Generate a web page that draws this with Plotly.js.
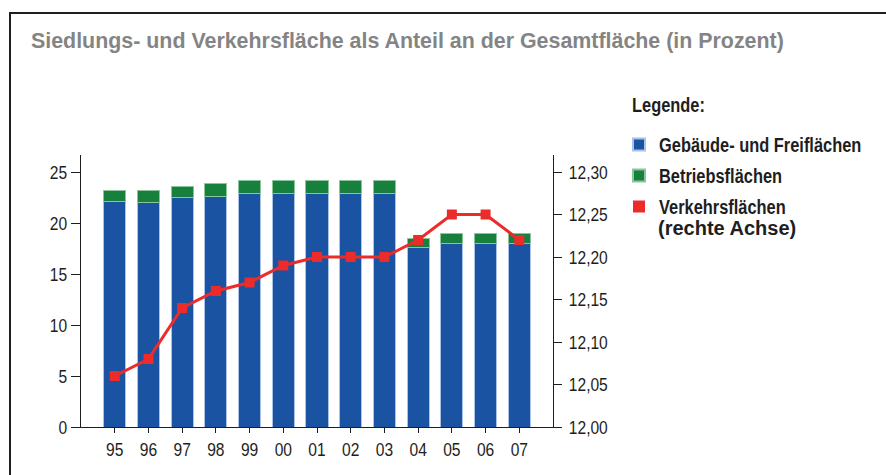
<!DOCTYPE html>
<html>
<head>
<meta charset="utf-8">
<script src="https://cdn.plot.ly/plotly-3.0.1.min.js"></script>
<style>
  html, body { margin: 0; padding: 0; background: #fff; width: 886px; height: 475px; overflow: hidden; }
  #frame { position: absolute; left: 9px; top: 12px; width: 1000px; height: 600px;
           border-left: 2px solid #1e1e1e; border-top: 2px solid #1e1e1e; }
  #chart { position: absolute; left: 0; top: 0; width: 886px; height: 475px; }
</style>
</head>
<body>
<div id="frame"></div>
<div id="chart"></div>
<script>
const years = ['95','96','97','98','99','00','01','02','03','04','05','06','07'];
const gebaeude = [22.1, 22.0, 22.5, 22.6, 22.9, 22.9, 22.9, 22.9, 22.9, 17.6, 18.0, 18.0, 18.0];
const betrieb  = [1.1, 1.2, 1.05, 1.3, 1.3, 1.3, 1.3, 1.3, 1.3, 0.9, 1.0, 1.0, 1.0];
const verkehr  = [12.06, 12.08, 12.14, 12.16, 12.17, 12.19, 12.20, 12.20, 12.20, 12.22, 12.25, 12.25, 12.22];
const leftTicks = [0, 5, 10, 15, 20, 25];
const rightTicks = [12.00, 12.05, 12.10, 12.15, 12.20, 12.25, 12.30];
const seriesNames = ['Gebäude- und Freiflächen', 'Betriebsflächen', 'Verkehrsflächen'];

const SANS = '"Liberation Sans", Arial, sans-serif';
const BLUE = '#1a53a1';
const GREEN = '#17803d';
const RED = '#ec2b2b';
const INK = '#1e1e1e';

const traces = [
  {
    type: 'bar', x: years, y: gebaeude, name: seriesNames[0],
    marker: { color: BLUE, line: { color: '#a9c2e6', width: 1 } },
    width: 0.66, legendgroup: 'a', hoverinfo: 'skip'
  },
  {
    type: 'bar', x: years, y: betrieb, name: seriesNames[1],
    marker: { color: GREEN, line: { color: '#8cc59c', width: 1 } },
    width: 0.66, legendgroup: 'b', hoverinfo: 'skip'
  },
  {
    type: 'scatter', mode: 'lines', x: years, y: verkehr, yaxis: 'y2',
    line: { color: RED, width: 3 }, showlegend: false, hoverinfo: 'skip'
  },
  {
    type: 'scatter', mode: 'markers', x: years, y: verkehr, yaxis: 'y2',
    name: seriesNames[2],
    marker: { color: RED, symbol: 'square', size: 10 },
    legendgroup: 'c', hoverinfo: 'skip'
  }
];

const tickFont = { family: SANS, size: 19, color: INK };

const layout = {
  width: 886, height: 475,
  paper_bgcolor: 'rgba(0,0,0,0)', plot_bgcolor: 'rgba(0,0,0,0)',
  margin: { l: 81, r: 333, t: 155, b: 48 },
  barmode: 'stack',
  separators: ',.',
  showlegend: true,
  hovermode: false,
  title: {
    text: 'Siedlungs- und Verkehrsfläche als Anteil an der Gesamtfläche (in Prozent)',
    font: { family: SANS, size: 21.4, color: '#848484', weight: 'bold' },
    x: 31 / 886, xanchor: 'left', xref: 'container',
    y: 1 - 41 / 475, yanchor: 'middle', yref: 'container'
  },
  xaxis: {
    type: 'category', range: [-1, 13], showgrid: false, zeroline: false,
    showline: true, linecolor: INK, linewidth: 1,
    ticks: 'outside', ticklen: 5, tickcolor: INK, tickwidth: 1,
    tickfont: tickFont, fixedrange: true
  },
  yaxis: {
    range: [0, 26.67], tickvals: leftTicks, ticktext: leftTicks.map(String),
    showgrid: false, zeroline: false,
    showline: true, linecolor: INK, linewidth: 1,
    ticks: 'outside', ticklen: 9, tickcolor: INK, tickwidth: 1,
    tickfont: tickFont, fixedrange: true
  },
  yaxis2: {
    overlaying: 'y', side: 'right',
    range: [12, 12.32], tickvals: rightTicks, tickformat: '.2f',
    showgrid: false, zeroline: false,
    showline: true, linecolor: INK, linewidth: 1,
    ticks: 'outside', ticklen: 8, tickcolor: INK, tickwidth: 1,
    ticklabelstandoff: 3,
    tickfont: tickFont, fixedrange: true
  },
  legend: {
    font: { family: SANS, size: 20, color: INK, weight: 'bold' },
    xref: 'container', yref: 'container',
    x: 619 / 886, xanchor: 'left',
    y: 1 - 125 / 475, yanchor: 'top',
    traceorder: 'grouped', tracegroupgap: 2,
    valign: 'top', itemsizing: 'constant',
    bgcolor: 'rgba(0,0,0,0)', borderwidth: 0
  },
  annotations: [
    {
      text: 'Legende:', xref: 'paper', yref: 'paper',
      x: (630 - 81) / 472, xanchor: 'left', align: 'left',
      y: (427 - 105) / 272, yanchor: 'middle',
      showarrow: false, font: { family: SANS, size: 20, color: INK, weight: 'bold' }
    },
    {
      text: '(rechte Achse)', xref: 'paper', yref: 'paper',
      x: (656 - 81) / 472, xanchor: 'left', align: 'left',
      y: (427 - 228) / 272, yanchor: 'middle',
      showarrow: false, font: { family: SANS, size: 20, color: INK, weight: 'bold' }
    }
  ]
};

function condense(selector, factor) {
  document.querySelectorAll(selector).forEach(function (t) {
    const w = t.getComputedTextLength();
    if (w > 0) {
      t.setAttribute('textLength', (w * factor).toFixed(2));
      t.setAttribute('lengthAdjust', 'spacingAndGlyphs');
    }
  });
}

Plotly.newPlot('chart', traces, layout, { staticPlot: true, displayModeBar: false }).then(function () {
  condense('#chart .xtick text, #chart .ytick text, #chart .y2tick text', 0.82);
  condense('#chart .legendtext', 0.82);
  condense('#chart .annotation[data-index="0"] .annotation-text', 0.82);
});
</script>
</body>
</html>
